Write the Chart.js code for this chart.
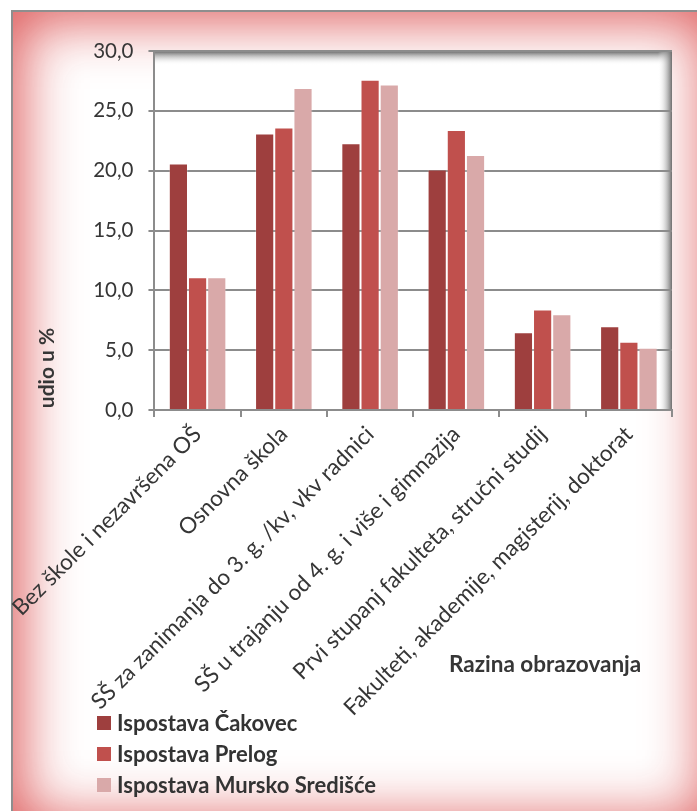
<!DOCTYPE html>
<html lang="hr">
<head>
<meta charset="utf-8">
<title>Razina obrazovanja</title>
<script src="https://cdn.jsdelivr.net/npm/chart.js@4.4.1/dist/chart.umd.min.js"></script>
<style>
    html, body { margin: 0; padding: 0; background: #fff; overflow: hidden; }
    body { width: 697px; height: 811px; position: relative; font-family: Lato, sans-serif; }
    .frame {
        position: absolute; left: 11px; top: 10px; width: 700px; height: 815px;
        border: 2px solid #8e8e8e; background: #fff;
        box-shadow: inset 0 0 55px 10px rgba(220, 85, 85, 0.95);
    }
    .chart-wrap { position: absolute; left: 0; top: 0; width: 697px; height: 811px; }
    #legend { position: absolute; left: 97px; top: 707px; }
    .legend-item { display: flex; align-items: center; height: 31px; font: bold 22px Lato, sans-serif; color: #333; }
    .legend-box { width: 14px; height: 14px; margin-right: 6px; }
</style>
</head>
<body>
<div class="frame"></div>
<div class="chart-wrap"><canvas id="chart"></canvas></div>
<div id="legend"></div>
<script>
// Data
const categories = [
    'Bez škole i nezavršena OŠ',
    'Osnovna škola',
    'SŠ za zanimanja do 3. g. /kv, vkv radnici',
    'SŠ u trajanju od 4. g. i više i gimnazija',
    'Prvi stupanj fakulteta, stručni studij',
    'Fakulteti, akademije, magisterij, doktorat'
];
const seriesNames = ['Ispostava Čakovec', 'Ispostava Prelog', 'Ispostava Mursko Središće'];
const cakovec = [20.6, 23.1, 22.3, 20.1, 6.5, 7.0];
const prelog = [11.1, 23.6, 27.6, 23.4, 8.4, 5.7];
const mursko = [11.1, 26.9, 27.2, 21.3, 8.0, 5.2];
const yTicks = [0, 5, 10, 15, 20, 25, 30];

const colors = ['#9e3f3e', '#c0504d', '#d9a9a9'];
const gridGray = '#8c8c8c';
const textColor = '#363636';

// Plot area background with the inner shadow on top and right
const plotShadow = {
    id: 'plotShadow',
    beforeDraw(chart) {
        const { ctx, chartArea: a } = chart;
        ctx.save();
        ctx.fillStyle = '#fff';
        ctx.fillRect(a.left, a.top, a.right - a.left, a.bottom - a.top);
        let g = ctx.createLinearGradient(0, a.top, 0, a.top + 14);
        g.addColorStop(0, 'rgba(100,100,100,1)');
        g.addColorStop(1, 'rgba(255,255,255,0)');
        ctx.fillStyle = g;
        ctx.fillRect(a.left, a.top, a.right - a.left, 14);
        g = ctx.createLinearGradient(a.right - 14, 0, a.right, 0);
        g.addColorStop(0, 'rgba(255,255,255,0)');
        g.addColorStop(1, 'rgba(110,110,110,1)');
        ctx.fillStyle = g;
        ctx.fillRect(a.right - 14, a.top, 14, a.bottom - a.top);
        ctx.restore();
    },
    afterDraw(chart) {
        const { ctx } = chart;
        ctx.save();
        ctx.fillStyle = textColor;
        ctx.font = 'bold 22.5px Lato, sans-serif';
        ctx.textBaseline = 'middle';
        ctx.textAlign = 'left';
        ctx.fillText('Razina obrazovanja', 449, 665);
        ctx.font = 'bold 21px Lato, sans-serif';
        ctx.translate(47, 368);
        ctx.rotate(-Math.PI / 2);
        ctx.textAlign = 'center';
        ctx.fillText('udio u %', 0, 0);
        ctx.restore();
    }
};

const datasets = [cakovec, prelog, mursko].map((values, i) => ({
    label: seriesNames[i],
    data: values,
    backgroundColor: colors[i],
    borderColor: 'rgba(255,255,255,0.25)',
    borderWidth: 1,
    categoryPercentage: 0.667,
    barPercentage: 1.0
}));

const chart = new Chart(document.getElementById('chart'), {
    type: 'bar',
    data: { labels: categories, datasets: datasets },
    options: {
        responsive: true,
        maintainAspectRatio: false,
        animation: false,
        layout: { padding: { top: 51, right: 25, left: 0, bottom: 0 } },
        scales: {
            x: {
                grid: { offset: true, drawOnChartArea: false, drawTicks: true, tickLength: 7, color: gridGray, lineWidth: 2 },
                border: { color: gridGray, width: 2 },
                ticks: { minRotation: 45, maxRotation: 45, autoSkip: false, color: textColor, font: { family: 'Lato', size: 22.5 }, padding: 4 },
                afterFit: scale => { scale.height = 811 - 410; }
            },
            y: {
                min: 0,
                max: 30,
                afterBuildTicks: scale => { scale.ticks = yTicks.map(v => ({ value: v })); },
                grid: { color: gridGray, lineWidth: 2, tickLength: 6 },
                border: { color: gridGray, width: 2 },
                ticks: {
                    color: textColor,
                    font: { family: 'Lato', size: 20.5 },
                    padding: 15,
                    callback: v => v.toFixed(1).replace('.', ',')
                },
                afterFit: scale => { scale.width = 149; }
            }
        },
        plugins: {
            legend: { display: false },
            tooltip: { enabled: false }
        }
    },
    plugins: [plotShadow]
});

// Vertical legend in the bottom left corner
const legend = document.getElementById('legend');
legend.innerHTML = chart.data.datasets.map(ds => `
    <div class="legend-item"><span class="legend-box" style="background:${ds.backgroundColor}"></span>${ds.label}</div>
`).join('');
</script>
</body>
</html>
